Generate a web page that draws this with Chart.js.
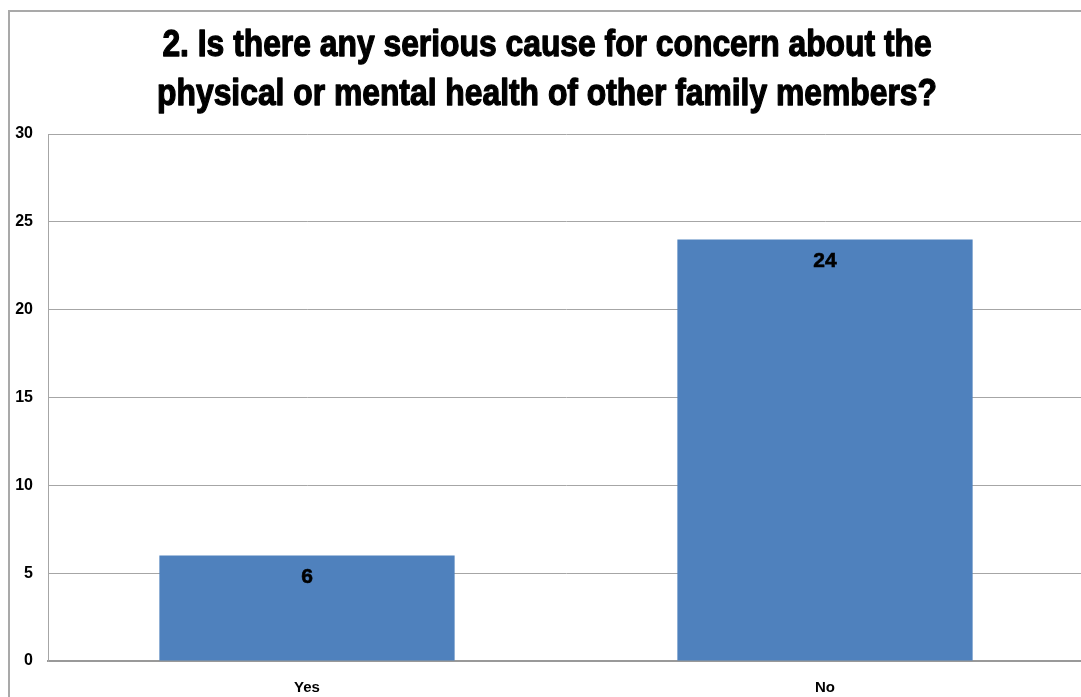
<!DOCTYPE html>
<html>
<head>
<meta charset="utf-8">
<script src="https://cdn.jsdelivr.net/npm/chart.js@4.4.1/dist/chart.umd.min.js"></script>
<style>
  html, body { margin: 0; padding: 0; background: #fff; overflow: hidden; }
  #wrap { position: relative; width: 1081px; height: 697px; overflow: hidden; }
  #c { position: absolute; left: 0; top: 0; }
  #frame {
    position: absolute; left: 8px; top: 10px; right: -10px; bottom: -10px;
    border-left: 2px solid #a9a9a9; border-top: 2px solid #a9a9a9;
    pointer-events: none;
  }
</style>
</head>
<body>
<div id="wrap">
  <canvas id="c" width="1084" height="697"></canvas>
  <div id="frame"></div>
</div>
<script>
const categories = ['Yes', 'No'];
const counts = [6, 24];
const titleLines = [
  '2. Is there any serious cause for concern about the',
  'physical or mental health of other family members?'
];
const yMin = 0;
const yMax = 30;
const yStep = 5;

// Two-line heading in a tall, condensed, heavy bold face
const condensedTitle = {
  id: 'condensedTitle',
  afterDraw(chart) {
    const ctx = chart.ctx;
    const cx = 547;
    const baselines = [56, 105];
    const squeeze = 0.86;
    ctx.save();
    ctx.font = 'bold 37px "Liberation Sans", Arial, sans-serif';
    ctx.fillStyle = '#000';
    ctx.strokeStyle = '#000';
    ctx.lineWidth = 1.3;
    ctx.lineJoin = 'round';
    ctx.textAlign = 'center';
    ctx.textBaseline = 'alphabetic';
    titleLines.forEach((line, i) => {
      ctx.save();
      ctx.translate(cx, baselines[i]);
      ctx.scale(squeeze, 1);
      ctx.fillText(line, 0, 0);
      ctx.strokeText(line, 0, 0);
      ctx.restore();
    });
    ctx.restore();
  }
};

// Writes each bar's value a little below its top edge
const valueLabels = {
  id: 'valueLabels',
  afterDatasetsDraw(chart) {
    const ctx = chart.ctx;
    const meta = chart.getDatasetMeta(0);
    ctx.save();
    ctx.font = 'bold 21px "Liberation Sans", Arial, sans-serif';
    ctx.fillStyle = '#000';
    ctx.strokeStyle = '#000';
    ctx.lineWidth = 0.6;
    ctx.textAlign = 'center';
    ctx.textBaseline = 'middle';
    meta.data.forEach((bar, i) => {
      ctx.fillText(String(counts[i]), bar.x, bar.y + 22);
      ctx.strokeText(String(counts[i]), bar.x, bar.y + 22);
    });
    ctx.restore();
  }
};

new Chart(document.getElementById('c'), {
  type: 'bar',
  data: {
    labels: categories,
    datasets: [{
      data: counts,
      backgroundColor: '#4F81BD',
      borderWidth: 0,
      categoryPercentage: 0.57,
      barPercentage: 1.0
    }]
  },
  options: {
    responsive: false,
    animation: false,
    devicePixelRatio: 1,
    layout: { padding: { left: 0, right: 0, top: 134, bottom: 1 } },
    plugins: {
      legend: { display: false },
      tooltip: { enabled: false },
      title: { display: false }
    },
    scales: {
      x: {
        grid: { display: false, drawTicks: false },
        border: { display: true, color: '#999999', width: 2 },
        ticks: {
          color: '#000',
          padding: 18,
          font: { family: '"Liberation Sans", Arial, sans-serif', size: 15, weight: 'bold' }
        },
        afterFit(scale) { scale.height = 35; }
      },
      y: {
        min: yMin,
        max: yMax,
        grid: { color: '#a6a6a6', lineWidth: 1, drawTicks: false },
        border: { display: true, color: '#a6a6a6', width: 1 },
        ticks: {
          stepSize: yStep,
          color: '#000',
          padding: 15,
          font: { family: '"Liberation Sans", Arial, sans-serif', size: 16, weight: 'bold' }
        },
        afterFit(scale) { scale.width = 48; }
      }
    }
  },
  plugins: [valueLabels, condensedTitle]
});
</script>
</body>
</html>
